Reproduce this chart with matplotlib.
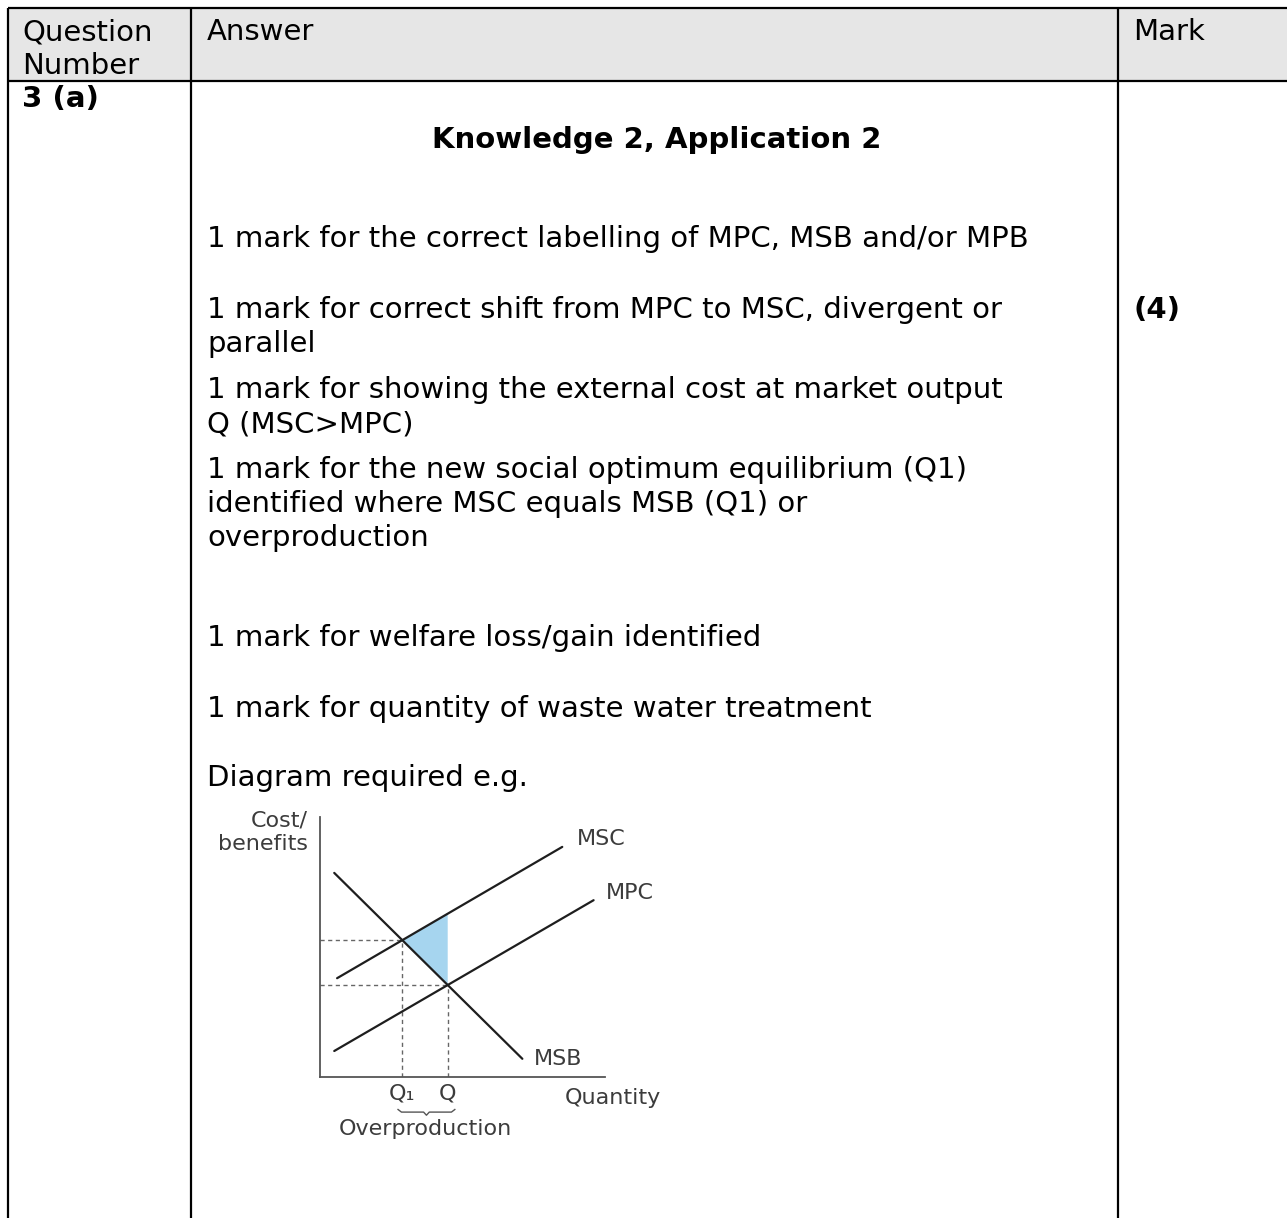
import matplotlib
matplotlib.use("Agg")
import matplotlib.pyplot as plt
from matplotlib.patches import Rectangle, Polygon
import numpy as np

# ---------------- data ----------------
header_labels = ["Question\nNumber", "Answer", "Mark"]
question_id = "3 (a)"
mark_value = "(4)"
subtitle = "Knowledge 2, Application 2"
body_lines = [
    "1 mark for the correct labelling of MPC, MSB and/or MPB",
    "1 mark for correct shift from MPC to MSC, divergent or",
    "parallel",
    "1 mark for showing the external cost at market output",
    "Q (MSC>MPC)",
    "1 mark for the new social optimum equilibrium (Q1)",
    "identified where MSC equals MSB (Q1) or",
    "overproduction",
    "1 mark for welfare loss/gain identified",
    "1 mark for quantity of waste water treatment",
    "Diagram required e.g.",
]
body_baselines = [247, 318, 352, 398, 432, 478, 512, 546, 646, 717, 786]

# diagram curves (endpoints in diagram units)
msb_x = [0.5, 7.1]
msb_y = [7.85, 0.7]
msc_x = [0.6, 8.5]
msc_y = [3.8, 8.85]
mpc_x = [0.5, 9.6]
mpc_y = [1.0, 6.8]
curve_names = ["MSB", "MSC", "MPC"]

# ---------------- figure ----------------
W, H = 1287, 1218
fig = plt.figure(figsize=(W / 100, H / 100), dpi=100)
ax = fig.add_axes([0, 0, 1, 1])
ax.set_xlim(0, W)
ax.set_ylim(H, 0)
ax.axis("off")

FS = 21.0
FONT = "DejaVu Sans"
lw_tab = 1.6

# header fill
ax.add_patch(Rectangle((8, 8), W - 8, 73, facecolor="#e6e6e6", edgecolor="none", zorder=0))
# table lines
ax.plot([8, W], [8, 8], color="black", lw=lw_tab, solid_capstyle="butt")
ax.plot([8, W], [81, 81], color="black", lw=lw_tab, solid_capstyle="butt")
for xv in [8, 191, 1118]:
    ax.plot([xv, xv], [8, H], color="black", lw=lw_tab, solid_capstyle="butt")

# header texts
ax.text(22, 40, "Question", fontsize=FS, family=FONT, va="baseline", ha="left")
ax.text(22, 74, "Number", fontsize=FS, family=FONT, va="baseline", ha="left")
ax.text(207, 40, header_labels[1], fontsize=FS, family=FONT, va="baseline", ha="left")
ax.text(1133, 40, header_labels[2], fontsize=FS, family=FONT, va="baseline", ha="left")

ax.text(22, 107, question_id, fontsize=FS, family=FONT, weight="bold", va="baseline")
ax.text(657, 148, subtitle, fontsize=FS, family=FONT, weight="bold", va="baseline", ha="center")
ax.text(1133, 318, mark_value, fontsize=FS, family=FONT, weight="bold", va="baseline")

for t, yb in zip(body_lines, body_baselines):
    ax.text(207, yb, t, fontsize=FS, family=FONT, va="baseline", ha="left")

# ---------------- diagram ----------------
L, R, T, B = 320, 605, 817, 1077
axd = fig.add_axes([L / W, (H - B) / H, (R - L) / W, (B - T) / H])
axd.set_xlim(0, 10)
axd.set_ylim(0, 10)
axd.patch.set_alpha(0)
for s in ["top", "right"]:
    axd.spines[s].set_visible(False)
for s in ["left", "bottom"]:
    axd.spines[s].set_color("#555555")
    axd.spines[s].set_linewidth(1.3)
axd.set_xticks([])
axd.set_yticks([])


def line_fn(xs, ys):
    m = (ys[1] - ys[0]) / (xs[1] - xs[0])
    return m, ys[0] - m * xs[0]


m_b, c_b = line_fn(msb_x, msb_y)
m_s, c_s = line_fn(msc_x, msc_y)
m_p, c_p = line_fn(mpc_x, mpc_y)
q1 = (c_s - c_b) / (m_b - m_s)
p1 = m_b * q1 + c_b
q0 = (c_p - c_b) / (m_b - m_p)
p0 = m_b * q0 + c_b

# shaded welfare loss
axd.add_patch(Polygon([[q1, p1], [q0, m_s * q0 + c_s], [q0, p0]], closed=True,
                      facecolor="#a6d5ef", edgecolor="none", zorder=1))

dash_kw = dict(color="#666666", lw=1.0, ls=(0, (3, 2.5)), zorder=2)
axd.plot([0, q1], [p1, p1], **dash_kw)
axd.plot([0, q0], [p0, p0], **dash_kw)
axd.plot([q1, q1], [0, p1], **dash_kw)
axd.plot([q0, q0], [0, p0], **dash_kw)

lk = dict(color="#1e1e1e", lw=1.6, zorder=3, solid_capstyle="round")
axd.plot(msb_x, msb_y, **lk)
axd.plot(msc_x, msc_y, **lk)
axd.plot(mpc_x, mpc_y, **lk)

DFS = 16.0
tc = "#3c3c3c"
tk = dict(fontsize=DFS, family=FONT, color=tc, clip_on=False)
axd.text(-0.42, 9.88, "Cost/", ha="right", va="center", **tk)
axd.text(-0.42, 8.96, "benefits", ha="right", va="center", **tk)
axd.text(9.02, 9.15, curve_names[1], ha="left", va="center", **tk)
axd.text(10.04, 7.08, curve_names[2], ha="left", va="center", **tk)
axd.text(7.51, 0.69, curve_names[0], ha="left", va="center", **tk)
axd.text(q1, -0.62, "Q₁", ha="center", va="center", **tk)
axd.text(q0, -0.62, "Q", ha="center", va="center", **tk)
axd.text(8.6, -0.81, "Quantity", ha="left", va="center", **tk)
axd.text((q1 + q0) / 2, -2.0, "Overproduction", ha="center", va="center", **tk)

# brace under Q1..Q
xa, xb = q1 - 0.15, q0 + 0.25
xm = (xa + xb) / 2
yb_ = -1.35
bx = [xa, xa + 0.12, xm - 0.1, xm, xm + 0.1, xb - 0.12, xb]
by = [yb_ + 0.1, yb_, yb_, yb_ - 0.12, yb_, yb_, yb_ + 0.1]
axd.plot(bx, by, color="#555555", lw=1.0, clip_on=False)

fig.savefig("out.png", dpi=100)
